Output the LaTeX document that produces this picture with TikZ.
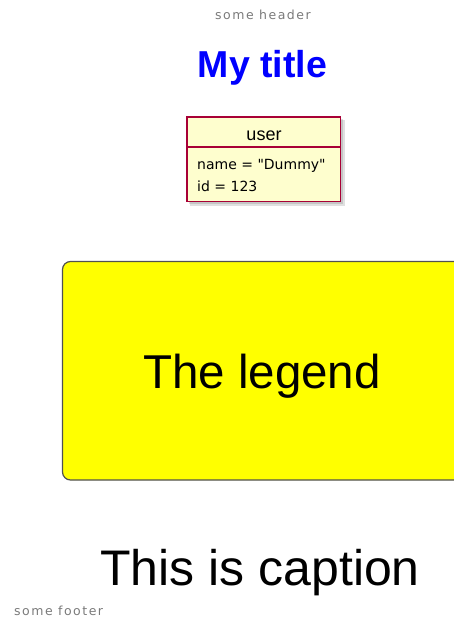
\documentclass[tikz,border=0pt]{standalone}
\usepackage{fontspec}
\setmainfont{Liberation Sans}
\newfontfamily\dvs{DejaVu Sans}
\newfontfamily\dvsspaced[LetterSpace=12]{DejaVu Sans}
\definecolor{hdrgray}{HTML}{7A7A7A}
\definecolor{classfill}{HTML}{FEFECE}
\definecolor{classborder}{HTML}{A80036}
\definecolor{legborder}{HTML}{505050}
\definecolor{titleblue}{HTML}{0000FF}
\definecolor{legfill}{HTML}{FFFF00}
\tikzset{
  hdrtext/.style={font=\dvsspaced\fontsize{12.5}{14}\selectfont, text=hdrgray, inner sep=0pt},
  classbox/.style={fill=classfill, draw=classborder, line width=1.5pt},
  attrtext/.style={font=\dvs\fontsize{14}{16}\selectfont, inner sep=0pt, anchor=base west},
}
\begin{document}
\begin{tikzpicture}[x=1pt,y=-1pt]
\useasboundingbox (0,0) rectangle (454,619);
\clip (0,0) rectangle (454,619);
% header
\node[hdrtext, anchor=base] (hdr) at (263,19) {some header};
% title
\node[font=\bfseries\fontsize{37.5}{42}\selectfont, text=titleblue, inner sep=0pt, anchor=base] (title) at (262.5,77) {My title};
% class shadow
\fill[black, opacity=0.12] (190,120) rectangle (345,206);
\fill[black, opacity=0.12] (189,119) rectangle (343,204);
% class box
\draw[classbox] (187,117) rectangle (340.5,201.5);
\draw[classborder, line width=1.5pt] (187,147) -- (340.5,147);
\node[font=\fontsize{18}{20}\selectfont, inner sep=0pt, anchor=base] (cls) at (264,140) {user};
\node[attrtext] (a1) at (197,169) {name = "Dummy"};
\node[attrtext] (a2) at (197,191) {id = 123};
% legend
\draw[fill=legfill, draw=legborder, line width=1.2pt, rounded corners=8pt] (62.5,261.5) rectangle (462,480);
\node[font=\fontsize{47.5}{52}\selectfont, inner sep=0pt, anchor=base] (leg) at (262,388) {The legend};
% caption
\node[font=\fontsize{50}{55}\selectfont, inner sep=0pt, anchor=base] (cap) at (260,585) {This is caption};
% footer
\node[hdrtext, anchor=base west] (ftr) at (14,615) {some footer};
\end{tikzpicture}
\end{document}
